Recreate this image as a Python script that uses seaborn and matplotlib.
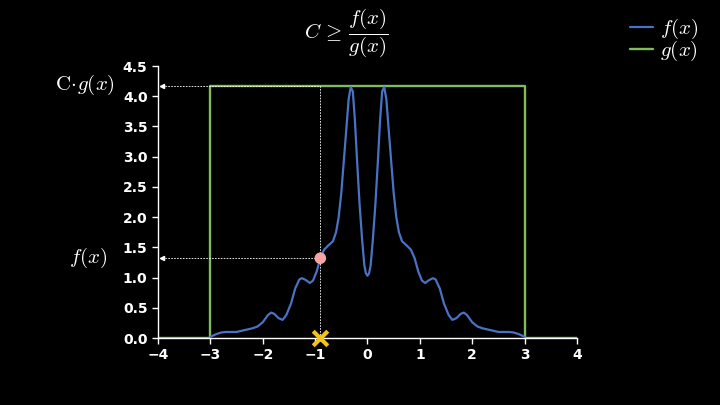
import numpy as np
import pandas as pd
import matplotlib
matplotlib.use("Agg")
import matplotlib.pyplot as plt
import seaborn as sns

# f(x) (demi-gauche puis demi-droite)
fx = [-3.0, -2.9, -2.8, -2.7, -2.6, -2.5, -2.4, -2.3, -2.2, -2.1, -2.0, -1.9, -1.84, -1.78,
      -1.7, -1.62, -1.55, -1.46, -1.38, -1.3, -1.25, -1.18, -1.1, -1.04, -0.97, -0.9, -0.83,
      -0.75, -0.66, -0.6, -0.55, -0.5, -0.45, -0.4, -0.36, -0.32, -0.28, -0.24, -0.2, -0.15,
      -0.1, -0.06, -0.03, 0.0,
      0.03, 0.06, 0.1, 0.15, 0.2, 0.24, 0.28, 0.32, 0.36, 0.4, 0.45, 0.5, 0.55, 0.6, 0.66,
      0.75, 0.83, 0.9, 0.97, 1.04, 1.1, 1.18, 1.25, 1.3, 1.38, 1.46, 1.55, 1.62, 1.7, 1.78,
      1.84, 1.9, 2.0, 2.1, 2.2, 2.3, 2.4, 2.5, 2.6, 2.7, 2.8, 2.9, 3.0]
fy = [0.02, 0.06, 0.09, 0.10, 0.10, 0.10, 0.12, 0.14, 0.16, 0.19, 0.26, 0.38, 0.42, 0.40,
      0.33, 0.30, 0.38, 0.57, 0.82, 0.97, 0.99, 0.96, 0.91, 0.95, 1.10, 1.32, 1.46,
      1.53, 1.60, 1.75, 2.0, 2.4, 2.95, 3.5, 3.95, 4.15, 4.08, 3.6, 2.95, 2.2,
      1.6, 1.2, 1.07, 1.03,
      1.07, 1.2, 1.6, 2.2, 2.95, 3.6, 4.08, 4.15, 3.95, 3.5, 2.95, 2.4, 2.0, 1.75, 1.60,
      1.53, 1.46, 1.32, 1.10, 0.95, 0.91, 0.96, 0.99, 0.97, 0.82, 0.57, 0.38, 0.30, 0.33, 0.40,
      0.42, 0.38, 0.26, 0.19, 0.16, 0.14, 0.12, 0.10, 0.10, 0.10, 0.09, 0.06, 0.02]

# C*g(x) : uniforme sur [-3, 3]
gx = [-4, -3, -3, 3, 3, 4]
gy = [0, 0, 4.17, 4.17, 0, 0]

x_sample = -0.9
y_sample = 1.32
c_g = 4.17

blue = "#4a72c4"
green = "#82bb5b"

plt.rcParams["mathtext.fontset"] = "cm"
sns.set_style("dark", {"axes.facecolor": "black", "figure.facecolor": "black"})

fig = plt.figure(figsize=(7.2, 4.05), dpi=100)
ax = fig.add_axes([0.2194, 0.1654, 0.582, 0.6716])
ax.set_facecolor("black")

df_f = pd.DataFrame({"x": fx, "y": fy})
df_g = pd.DataFrame({"x": gx, "y": gy})
sns.lineplot(data=df_g, x="x", y="y", sort=False, estimator=None, color=green, lw=1.7, ax=ax, zorder=2)
sns.lineplot(data=df_f, x="x", y="y", sort=False, estimator=None, color=blue, lw=1.6, ax=ax, zorder=3)

# lignes pointillees + fleches
dash = dict(color="white", lw=0.6, ls=(0, (2, 1.5)), zorder=4)
ax.plot([-3.93, x_sample], [c_g, c_g], **dash)
ax.plot([-3.93, x_sample], [y_sample, y_sample], **dash)
ax.plot([x_sample, x_sample], [0, c_g], **dash)
ax.plot([-3.93, -3.93], [c_g, y_sample], ls="none", marker="<", ms=3, color="white", zorder=4)

ax.scatter([x_sample], [y_sample], s=70, color="#f7a3a3", zorder=5, edgecolor="none")
ax.scatter([x_sample], [0.0], s=110, marker="x", color="#f5c21b", linewidths=3, zorder=6, clip_on=False)

ax.set_xlim(-4, 4)
ax.set_ylim(0, 4.5)
ax.set_xticks(np.arange(-4, 5, 1))
ax.set_yticks(np.arange(0, 4.51, 0.5))
ax.set_xticklabels(["\u22124", "\u22123", "\u22122", "\u22121", "0", "1", "2", "3", "4"])
ax.set_yticklabels(["%.1f" % v for v in np.arange(0, 4.51, 0.5)])
ax.set_xlabel("")
ax.set_ylabel("")
for lab in ax.get_xticklabels() + ax.get_yticklabels():
    lab.set_fontweight("bold")
    lab.set_color("white")
    lab.set_fontsize(10)
ax.tick_params(colors="white", direction="out", length=4, width=1, bottom=True, left=True)
for s in ["top", "right"]:
    ax.spines[s].set_visible(False)
for s in ["left", "bottom"]:
    ax.spines[s].set_color("white")
    ax.spines[s].set_linewidth(1)
ax.grid(False)

fig.text(0.118, 0.79, r"$\mathrm{C}\!\cdot\! g(x)$", color="white", fontsize=15, ha="center", va="center")
fig.text(0.122, 0.362, r"$f(x)$", color="white", fontsize=15, ha="center", va="center")
fig.text(0.481, 0.92, r"$C\,\geq\,\dfrac{f(x)}{g(x)}$", color="white", fontsize=15, ha="center", va="center")

h_f = plt.Line2D([], [], color=blue, lw=1.6)
h_g = plt.Line2D([], [], color=green, lw=1.7)
leg = fig.legend([h_f, h_g], [r"$f(x)$", r"$g(x)$"], loc="upper left", bbox_to_anchor=(0.849, 1.004),
                 frameon=False, fontsize=15, handlelength=1.1, handletextpad=0.35, labelspacing=-0.1)
for t in leg.get_texts():
    t.set_color("white")

fig.savefig("out.png", dpi=100, facecolor="black")
